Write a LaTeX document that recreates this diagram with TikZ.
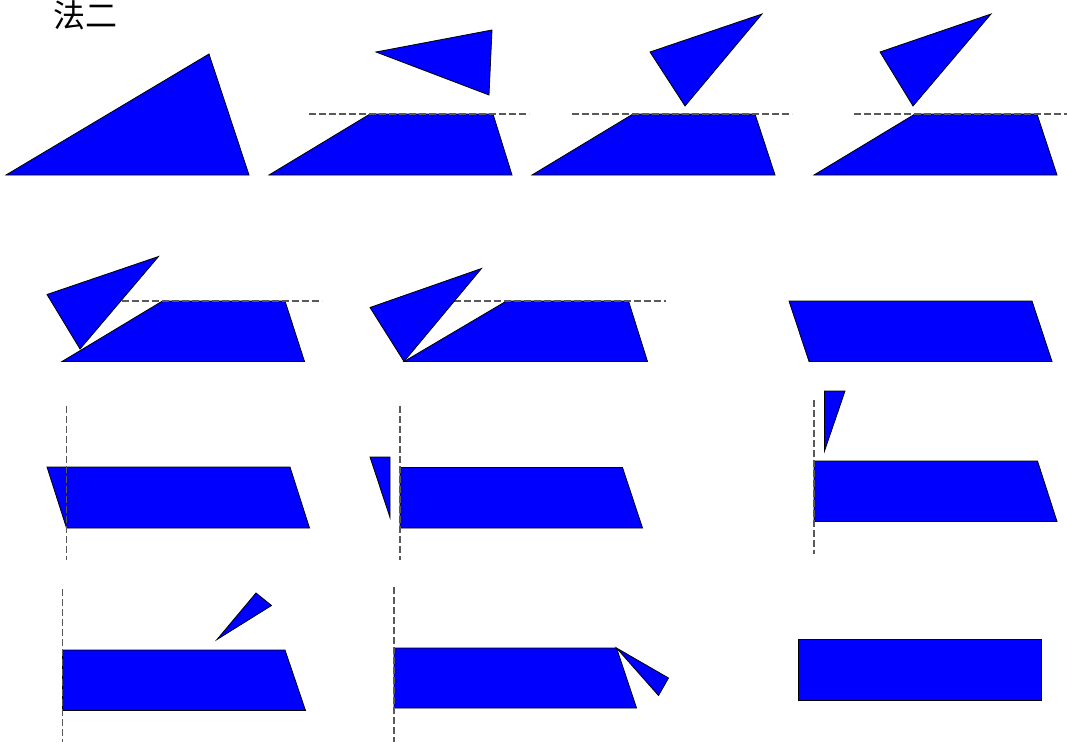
\documentclass[tikz,border=0pt]{standalone}
\usepackage{fontspec}
\newfontfamily\cjk{Noto Sans CJK SC}
\begin{document}
\begin{tikzpicture}[x=0.75pt,y=-0.75pt,
    piece/.style={draw=black,fill=blue,line width=0.6pt,line join=miter},
    cutline/.style={draw=black!65,line width=0.8pt,dash pattern=on 5pt off 2.5pt}]
            \useasboundingbox (0,0) rectangle (1067,742);
            \node (title) at (85,15) {\cjk\fontsize{24}{28}\selectfont 法二};
            % (Row 1: cut along the midline)
            \draw [piece] (6,175) -- (209,54) -- (249,175) -- cycle;
            \draw [piece] (269,175) -- (370,114) -- (493,114) -- (512,175) -- cycle;
            \draw [cutline] (309,114) -- (529,114);
            \draw [piece] (376,52) -- (492,30) -- (489,95) -- cycle;
            \draw [piece] (532,175) -- (633,114) -- (755,114) -- (775,175) -- cycle;
            \draw [cutline] (572,114) -- (792,114);
            \draw [piece] (650,52) -- (762,14) -- (685,106) -- cycle;
            \draw [piece] (814,175) -- (915,114) -- (1037,114) -- (1057,175) -- cycle;
            \draw [cutline] (854,114) -- (1067,114);
            \draw [piece] (880,52) -- (991,14) -- (913,106) -- cycle;
            % (Row 2: top piece swung down)
            \draw [piece] (62,361.5) -- (162.5,301) -- (285,301) -- (304.5,361.5) -- cycle;
            \draw [cutline] (102,301) -- (322,301);
            \draw [piece] (47,294.5) -- (158.5,256.5) -- (80,349) -- cycle;
            \draw [piece] (404,361.5) -- (506.5,301) -- (628.5,301) -- (647.5,361.5) -- cycle;
            \draw [cutline] (444,301) -- (666,301);
            \draw [piece] (370,307.5) -- (481.5,268.5) -- (404,361.5) -- cycle;
            \draw [piece] (789,301) -- (1032,301) -- (1052,361.5) -- (809,361.5) -- cycle;
            % (Row 3: cut off the left corner)
            \draw [piece] (47,467) -- (290,467) -- (309.5,528) -- (66.5,528) -- cycle;
            \draw [cutline] (66.5,406) -- (66.5,560);
            \draw [piece] (370,457) -- (390,457) -- (390,517.5) -- cycle;
            \draw [piece] (400,467.5) -- (622.5,467.5) -- (642.5,528) -- (400,528) -- cycle;
            \draw [cutline] (400,406) -- (400,560);
            \draw [piece] (824.5,391) -- (845,391) -- (824.5,451) -- cycle;
            \draw [piece] (814,461) -- (1037.5,461) -- (1057,521.5) -- (814,521.5) -- cycle;
            \draw [cutline] (814,400) -- (814,554);
            % (Row 4: corner moved to the right end)
            \draw [piece] (62.5,650) -- (285,650) -- (305.5,710.5) -- (62.5,710.5) -- cycle;
            \draw [piece] (217,639.5) -- (256,593) -- (271.5,605.5) -- cycle;
            \draw [cutline] (62.5,589) -- (62.5,742);
            \draw [piece] (394,648) -- (616.5,648) -- (636.5,708) -- (394,708) -- cycle;
            \draw [piece] (616.5,648) -- (668.5,678) -- (658.5,695.5) -- cycle;
            \draw [cutline] (394,587) -- (394,742);
            \draw [piece] (798.5,639.5) rectangle (1041,700);
\end{tikzpicture}
\end{document}
